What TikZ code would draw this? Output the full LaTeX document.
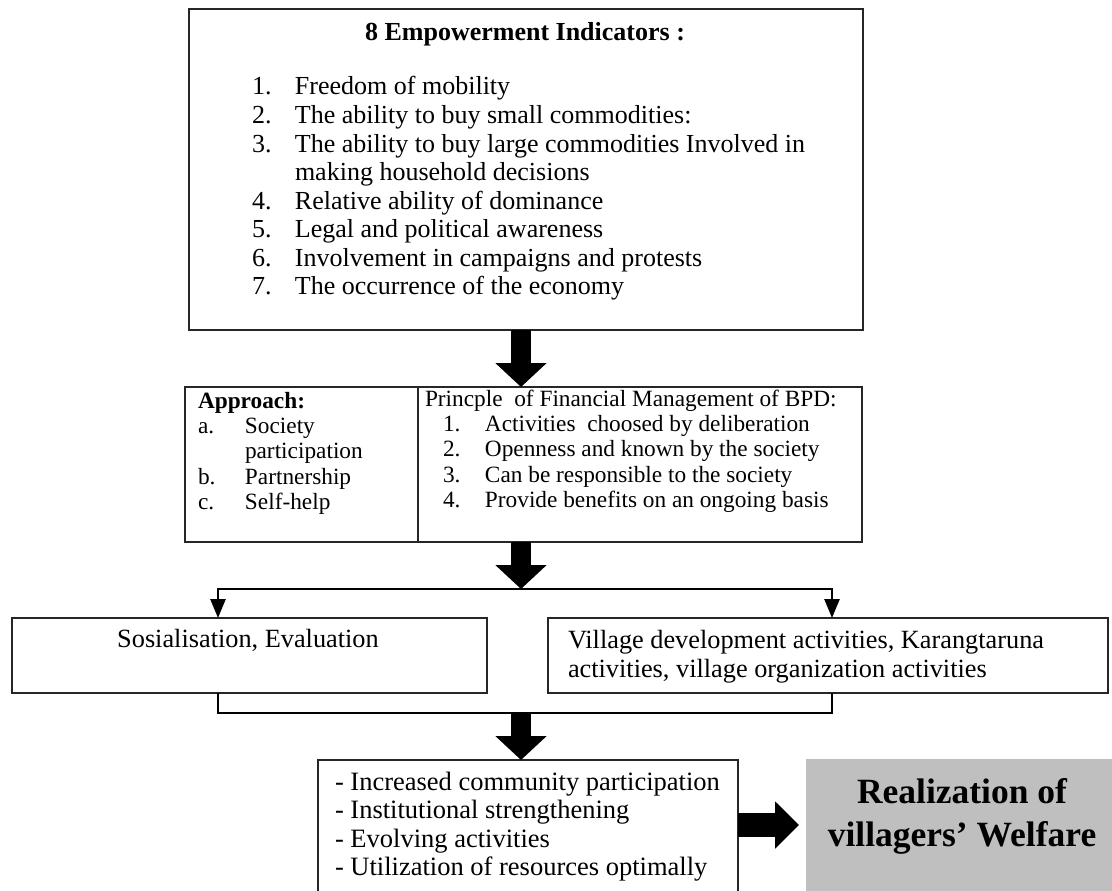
\documentclass[tikz,border=0pt]{standalone}
\usepackage{fontspec}
\setmainfont{Liberation Serif}
\usetikzlibrary{arrows.meta}
\definecolor{welgray}{HTML}{BFBFBF}
\newcommand\fsTop{\fontsize{26}{28.57}\selectfont}
\newcommand\fsMid{\fontsize{23.3}{25.4}\selectfont}
\newcommand\fsLow{\fontsize{26.3}{29}\selectfont}
\newcommand\fsRes{\fontsize{26.5}{28.5}\selectfont}
\newcommand\fsBig{\fontsize{35.5}{43}\selectfont}
\begin{document}
\begin{tikzpicture}[x=1pt,y=-1pt,
  box/.style={draw=black!85, line width=1.6pt, rectangle, inner sep=0pt, outer sep=0pt},
  rule/.style={draw=black!85, line width=1.6pt},
  txt/.style={inner sep=0pt, outer sep=0pt, anchor=base west},
  ctxt/.style={inner sep=0pt, outer sep=0pt, anchor=base},
  bigarrow/.style={line width=20pt, -{Triangle[width=50pt,length=24pt]}},
  conn/.style={line width=2.6pt},
  smallarrow/.style={line width=2.6pt, -{Triangle[width=15pt,length=19pt]}},
]
\useasboundingbox (0,0) rectangle (1112,891);
\clip (0,0) rectangle (1112,891);
\fill[white] (0,0) rectangle (1112,891);

% top box
\node[box, minimum width=674pt, minimum height=321pt] (top) at (526,169.5) {};
\node[ctxt] (ttl) at (525,41) {\fsTop\bfseries 8 Empowerment Indicators :};
\node[txt] (ind) at (252,95) {\fsTop\begin{tabular}[t]{@{}p{43pt}@{}l@{}}
1.&Freedom of mobility\\
2.&The ability to buy small commodities:\\
3.&The ability to buy large commodities Involved in\\
&making household decisions\\
4.&Relative ability of dominance\\
5.&Legal and political awareness\\
6.&Involvement in campaigns and protests\\
7.&The occurrence of the economy
\end{tabular}};

% middle box
\node[box, minimum width=677pt, minimum height=155pt] (mid) at (523.5,464.5) {};
\coordinate (dv) at (418,464.5);
\draw[rule] (mid.north -| dv) -- (mid.south -| dv);
\node[txt] (appr) at (198,408) {\fsMid\begin{tabular}[t]{@{}p{47pt}@{}l@{}}
\multicolumn{2}{@{}l@{}}{\bfseries Approach:}\\
a.&Society\\
&participation\\
b.&Partnership\\
c.&Self-help
\end{tabular}};
\node[txt] (prin) at (425,406) {\fsMid\begin{tabular}[t]{@{}p{18pt}@{}p{42pt}@{}l@{}}
\multicolumn{3}{@{}l@{}}{Princple\ \ of Financial Management of BPD:}\\
&1.&Activities\ \ choosed by deliberation\\
&2.&Openness and known by the society\\
&3.&Can be responsible to the society\\
&4.&Provide benefits on an ongoing basis
\end{tabular}};

\draw[bigarrow] (top.south -| 521,0) -- (mid.north -| 521,0);

% lower boxes
\node[box, minimum width=475pt, minimum height=75pt] (lb) at (249.5,655.5) {};
\node[box, minimum width=560pt, minimum height=75pt] (rb) at (828,655.5) {};
\node[ctxt] (lbt) at (248,647) {\fsLow Sosialisation, Evaluation};
\node[txt] (rbt) at (568,648) {\fsLow\begin{tabular}[t]{@{}l@{}}Village development activities, Karangtaruna\\
activities, village organization activities\end{tabular}};

\coordinate (sp) at (521,589);
\coordinate (lj) at (218,589);
\coordinate (rj) at (832,589);
\draw[bigarrow] (mid.south -| sp) -- (sp);
\draw[smallarrow] (sp) -| (lb.north -| lj);
\draw[smallarrow] (sp) -| (rb.north -| rj);

% merge
\coordinate (mg) at (521,713);
\draw[conn] (lb.south -| lj) |- (mg) -| (rb.south -| rj);

% result box
\node[box, minimum width=420pt, minimum height=180pt] (res) at (528,850) {};
\node[txt] (rest) at (335,790) {\fsRes\begin{tabular}[t]{@{}l@{}}- Increased community participation\\
- Institutional strengthening\\
- Evolving activities\\
- Utilization of resources optimally\end{tabular}};
\draw[bigarrow] (mg) -- (res.north -| mg);

% welfare box
\node[fill=welgray, minimum width=340pt, minimum height=180pt, inner sep=0pt, outer sep=0pt] (wel) at (976,849) {};
\node[ctxt] (welt) at (962,803) {\fsBig\bfseries\begin{tabular}[t]{@{}c@{}}Realization of\\
villagers’ Welfare\end{tabular}};
\coordinate (ar) at (0,825);
\draw[line width=24pt, -{Triangle[width=46pt,length=24pt]}, shorten >=7pt] (res.east |- ar) -- (wel.west |- ar);
\end{tikzpicture}
\end{document}
